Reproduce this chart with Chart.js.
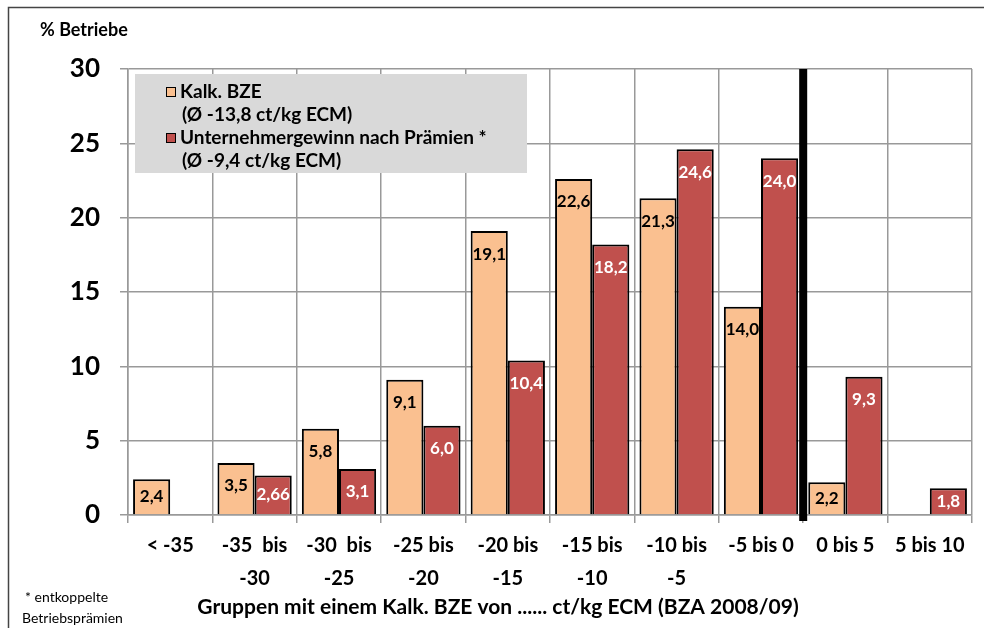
<!DOCTYPE html>
<html>
<head>
<meta charset="utf-8">
<script src="https://cdn.jsdelivr.net/npm/chart.js@4"></script>
<style>
  html, body { margin: 0; padding: 0; background: #fff; }
  #wrap { width: 984px; height: 628px; position: relative; }
</style>
</head>
<body>
<div id="wrap"><canvas id="c" width="984" height="628"></canvas></div>
<script>
const categories = [
    '< -35', ['-35  bis', '-30'], ['-30  bis', '-25'], ['-25 bis', '-20'], ['-20 bis', '-15'],
    ['-15 bis', '-10'], ['-10 bis', '-5'], '-5 bis 0', '0 bis 5', '5 bis 10'
];
const bzeValues    = [2.4, 3.5, 5.8, 9.1, 19.1, 22.6, 21.3, 14.0, 2.2, null];
const gewinnValues = [null, 2.66, 3.1, 6.0, 10.4, 18.2, 24.6, 24.0, 9.3, 1.8];
const bzeLabels    = ['2,4', '3,5', '5,8', '9,1', '19,1', '22,6', '21,3', '14,0', '2,2', ''];
const gewinnLabels = ['', '2,66', '3,1', '6,0', '10,4', '18,2', '24,6', '24,0', '9,3', '1,8'];
const legendLines  = [
    ['Kalk. BZE', '(Ø -13,8 ct/kg ECM)'],
    ['Unternehmergewinn nach Prämien *', '(Ø -9,4 ct/kg ECM)']
];
const yTicks = [0, 5, 10, 15, 20, 25, 30];

const FONT = 'Lato, "Open Sans", sans-serif';
const C_BZE = '#FAC090';
const C_GEW = '#C0504D';

// Werte in die Balken schreiben, Trennlinie, Legende, Titel
const decoPlugin = {
    id: 'deco',
    afterDatasetsDraw(chart) {
        const { ctx, chartArea: { top, bottom }, scales: { x } } = chart;
        ctx.save();
        ctx.font = 'bold 17px ' + FONT;
        ctx.textAlign = 'center';
        ctx.textBaseline = 'middle';
        [[0, bzeLabels, '#000'], [1, gewinnLabels, '#fff']].forEach(([di, labels, col]) => {
            chart.getDatasetMeta(di).data.forEach((bar, i) => {
                if (!labels[i]) return;
                const h = bar.base - bar.y;
                const ty = h < 44 ? (bar.y + bar.base) / 2 : bar.y + 23;
                ctx.fillStyle = col;
                ctx.fillText(labels[i], bar.x, ty);
            });
        });

        // dicke Linie zwischen "-5 bis 0" und "0 bis 5"
        const xl = (x.getPixelForValue(7) + x.getPixelForValue(8)) / 2;
        ctx.fillStyle = '#000';
        ctx.fillRect(xl - 4, top, 8, bottom - top + 6);

        // Legende
        ctx.fillStyle = '#D9D9D9';
        ctx.fillRect(135, 74, 392, 99);
        ctx.font = 'bold 19px ' + FONT;
        ctx.textAlign = 'left';
        [[C_BZE, 92], [C_GEW, 138]].forEach(([col, y], k) => {
            ctx.fillStyle = col;
            ctx.fillRect(166, y - 5, 10, 10);
            ctx.strokeStyle = '#000';
            ctx.lineWidth = 1;
            ctx.strokeRect(166.5, y - 4.5, 9, 9);
            ctx.fillStyle = '#000';
            ctx.fillText(legendLines[k][0], 180, y);
            ctx.fillText(legendLines[k][1], 182, y + 23);
        });

        // Achsentitel und Fußnote
        ctx.font = 'bold 18px ' + FONT;
        ctx.fillText('% Betriebe', 40, 30);
        ctx.font = 'bold 21px ' + FONT;
        ctx.textAlign = 'center';
        ctx.fillText('Gruppen mit einem Kalk. BZE von ...... ct/kg ECM (BZA 2008/09)', 498, 607);
        ctx.font = '14px ' + FONT;
        ctx.textAlign = 'left';
        ctx.fillText('* entkoppelte', 25, 597);
        ctx.fillText('Betriebsprämien', 22, 618);

        // Rahmen
        ctx.strokeStyle = '#444';
        ctx.lineWidth = 1.5;
        ctx.beginPath();
        ctx.moveTo(8.5, 628);
        ctx.lineTo(8.5, 7.5);
        ctx.lineTo(984, 7.5);
        ctx.stroke();
        ctx.restore();
    },
};

new Chart(document.getElementById('c'), {
    type: 'bar',
    plugins: [decoPlugin],
    data: {
        labels: categories,
        datasets: [
            {
                label: 'Kalk. BZE',
                data: bzeValues,
                backgroundColor: C_BZE,
                borderColor: '#000',
                borderWidth: 2,
                categoryPercentage: 0.88,
                barPercentage: 1.0,
                skipNull: false,
            },
            {
                label: 'Unternehmergewinn nach Prämien *',
                data: gewinnValues,
                backgroundColor: C_GEW,
                borderColor: '#000',
                borderWidth: 2,
                categoryPercentage: 0.88,
                barPercentage: 1.0,
                skipNull: false,
            },
        ],
    },
    options: {
        responsive: false,
        animation: false,
        devicePixelRatio: 1,
        layout: { padding: { left: 0, right: 12, top: 69, bottom: 0 } },
        plugins: { legend: { display: false }, tooltip: { enabled: false } },
        scales: {
            x: {
                grid: { color: '#999', lineWidth: 1.5, offset: true, tickLength: 8 },
                border: { color: '#999', width: 1.5 },
                ticks: {
                    color: '#000',
                    font: { family: FONT, size: 20, weight: 'bold', lineHeight: 1.65 },
                    padding: 6,
                    maxRotation: 0,
                    autoSkip: false,
                },
                afterFit(scale) { scale.height = 113; },
            },
            y: {
                min: 0,
                max: 30,
                afterBuildTicks(scale) { scale.ticks = yTicks.map(v => ({ value: v })); },
                grid: { color: '#999', lineWidth: 1.5, tickLength: 8 },
                border: { color: '#999', width: 1.5 },
                ticks: {
                    color: '#000',
                    font: { family: FONT, size: 26, weight: 'bold' },
                    padding: 20,
                },
                afterFit(scale) { scale.width = 128; },
            },
        },
    },
});
</script>
</body>
</html>
